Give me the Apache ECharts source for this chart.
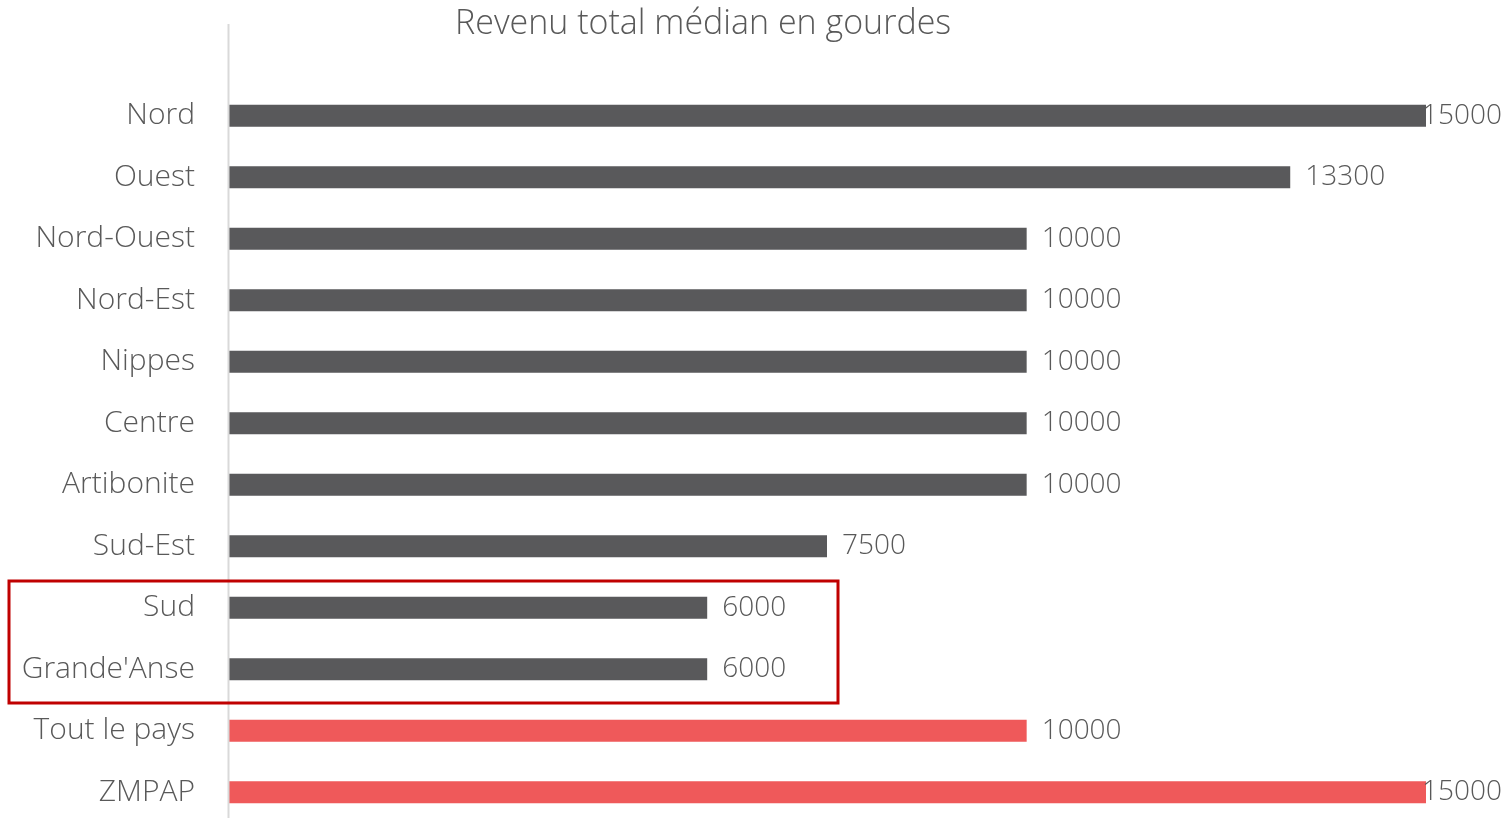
<!DOCTYPE html>
<html>
<head>
<meta charset="utf-8">
<script src="https://cdn.jsdelivr.net/npm/echarts@6/dist/echarts.min.js"></script>
<style>
  html, body { margin: 0; padding: 0; background: #fff; }
  #chart { width: 1503px; height: 818px; }
</style>
</head>
<body>
<div id="chart"></div>
<script>
// catégories, de haut en bas
const categories = [
  "Nord", "Ouest", "Nord-Ouest", "Nord-Est", "Nippes", "Centre",
  "Artibonite", "Sud-Est", "Sud", "Grande'Anse", "Tout le pays", "ZMPAP"
];
const values = [15000, 13300, 10000, 10000, 10000, 10000, 10000, 7500, 6000, 6000, 10000, 15000];
// les deux dernières barres sont en rouge
const highlighted = ["Tout le pays", "ZMPAP"];

const darkColor = "#59595b";
const redColor = "#ef595a";
const textColor = "#595959";
const font = "'Open Sans', 'Noto Sans', sans-serif";

const chart = echarts.init(document.getElementById("chart"));

const seriesData = values.map((v, i) => {
  const item = {
    value: v,
    itemStyle: { color: highlighted.includes(categories[i]) ? redColor : darkColor }
  };
  // les étiquettes de 15000 débordent, on les rapproche de la barre
  if (v >= 15000) item.label = { distance: -4 };
  return item;
});

const option = {
  animation: false,
  title: {
    text: "Revenu total médian en gourdes",
    left: 450,
    top: 2,
    textStyle: { color: textColor, fontSize: 34, fontWeight: 300, fontFamily: font }
  },
  grid: {
    left: 228, right: 77, top: 85, height: 738,
    containLabel: false,
    outerBoundsMode: "none"
  },
  xAxis: {
    type: "value",
    min: 0,
    max: 15000,
    show: false
  },
  yAxis: {
    type: "category",
    data: categories,
    inverse: true,
    axisLine: { show: false },
    axisTick: { show: false },
    splitLine: { show: false },
    axisLabel: {
      color: textColor,
      fontSize: 30,
      fontWeight: 300,
      fontFamily: font,
      margin: 33,
      padding: [6, 0, 0, 0]
    }
  },
  series: [
    {
      type: "bar",
      data: seriesData,
      barWidth: 22,
      label: {
        show: true,
        position: "right",
        distance: 15,
        color: textColor,
        fontSize: 28,
        fontWeight: 300,
        fontFamily: font,
        padding: [8, 0, 0, 0]
      }
    }
  ],
  graphic: [
    {
      // axe vertical
      type: "line",
      shape: { x1: 228.5, y1: 24, x2: 228.5, y2: 818 },
      style: { stroke: "#d9d9d9", lineWidth: 2 },
      z: 10
    },
    {
      // encadré rouge autour de Sud et Grande'Anse
      type: "rect",
      shape: { x: 9, y: 581, width: 829, height: 122 },
      style: { fill: "none", stroke: "#c00000", lineWidth: 3 },
      z: 10
    }
  ]
};

chart.setOption(option);
</script>
</body>
</html>
